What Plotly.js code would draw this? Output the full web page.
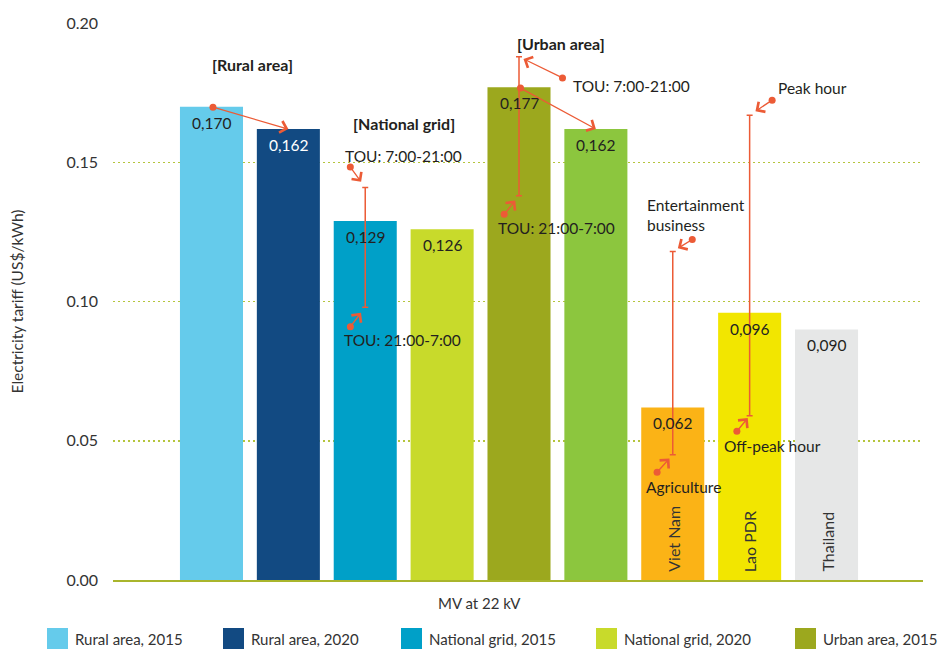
<!DOCTYPE html>
<html>
<head>
<meta charset="utf-8">
<script src="https://cdn.plot.ly/plotly-3.0.1.min.js"></script>
<style>
  html, body { margin: 0; padding: 0; background: #ffffff; }
  #chart { width: 946px; height: 649px; }
</style>
</head>
<body>
<div id="chart"></div>
<script>
// Medium-voltage (22 kV) electricity tariffs, US$/kWh
const categories = [
  'Rural area, 2015', 'Rural area, 2020',
  'National grid, 2015', 'National grid, 2020',
  'Urban area, 2015', 'Urban area, 2020',
  'Viet Nam', 'Lao PDR', 'Thailand'
];
const tariffs = [0.170, 0.162, 0.129, 0.126, 0.177, 0.162, 0.062, 0.096, 0.090];

// Time-of-use / sector ranges shown as vertical whiskers
const rangeHigh = [null, null, 0.141, null, 0.188, null, 0.118, 0.167, null];
const rangeLow  = [null, null, 0.098, null, 0.138, null, 0.045, 0.059, null];
const rangeHighLabels = [null, null, 'TOU: 7:00-21:00', null, 'TOU: 7:00-21:00', null, 'Entertainment<br>business', 'Peak hour', null];
const rangeLowLabels  = [null, null, 'TOU: 21:00-7:00', null, 'TOU: 21:00-7:00', null, 'Agriculture', 'Off-peak hour', null];

const groupLabels = ['[Rural area]', '[National grid]', '[Urban area]'];
const countryBars = [6, 7, 8];
const legendBars = [0, 1, 2, 3, 4];
const yTickVals = [0, 0.05, 0.10, 0.15, 0.20];
const yTickText = ['0.00', '0.05', '0.10', '0.15', '0.20'];

// Styling
const barColors = ['#65CBEB', '#124A82', '#00A0C8', '#C8DA2B', '#9CA81E', '#8CC63E', '#FBB316', '#F2E600', '#E6E7E7'];
const ink = '#231F20';
const arrowRed = '#EC5B36';
const FONT = 'Lato, "Open Sans", sans-serif';

const W = 946, H = 649;
const M = { l: 113, r: 23, t: 23, b: 69 };
const plotW = W - M.l - M.r, plotH = H - M.t - M.b;
const paperX = px => (px - M.l) / plotW;
const paperY = py => (H - M.b - py) / plotH;

const fmt = v => v.toFixed(3).replace('.', ',');

// One trace per bar so each keeps its own colour
const traces = categories.map((name, i) => ({
  type: 'bar',
  name: name,
  x: [i],
  y: [tariffs[i]],
  width: 0.82,
  marker: { color: barColors[i], line: { width: 0 } },
  showlegend: false,
  hoverinfo: 'name+y',
  error_y: rangeHigh[i] == null ? { visible: false } : {
    type: 'data',
    symmetric: false,
    array: [rangeHigh[i] - tariffs[i]],
    arrayminus: [tariffs[i] - rangeLow[i]],
    color: arrowRed,
    thickness: 1.5,
    width: 3
  }
}));

const annotations = [];

// Value labels just inside the top of each bar
tariffs.forEach((v, i) => {
  annotations.push({
    x: i, y: v, xref: 'x', yref: 'y',
    text: fmt(v), showarrow: false,
    yanchor: 'middle', yshift: -16,
    font: { family: FONT, size: 15.5, color: i === 1 ? '#ffffff' : ink }
  });
});

// Country names written up the bars
countryBars.forEach(i => {
  annotations.push({
    x: i, y: 0, xref: 'x', yref: 'y',
    text: categories[i], showarrow: false, textangle: -90,
    yanchor: 'bottom', yshift: 6,
    font: { family: FONT, size: 16, color: '#333333' }
  });
});

// Group headings
const groupPos = [[0.527, 0.1853], [2.504, 0.1641], [4.546, 0.1928]];
groupLabels.forEach((t, k) => {
  annotations.push({
    x: groupPos[k][0], y: groupPos[k][1], xref: 'x', yref: 'y',
    text: '<b>' + t + '</b>', showarrow: false,
    font: { family: FONT, size: 16, color: ink }
  });
});

// Arrow style shared by all callouts
const arrowStyle = {
  text: '', showarrow: true,
  arrowhead: 4, startarrowhead: 6, arrowside: 'end+start',
  arrowsize: 1.8, startarrowsize: 1.35, arrowwidth: 1.3,
  arrowcolor: arrowRed
};

// 2015 -> 2020 change arrows between neighbouring bars
[[0, 1], [4, 5]].forEach(([a, b]) => {
  annotations.push(Object.assign({}, arrowStyle, {
    x: b, y: tariffs[b], xref: 'x', yref: 'y',
    ax: a, ay: tariffs[a], axref: 'x', ayref: 'y',
    standoff: 0
  }));
});

// Callout arrows pointing at the whisker ends (tail offsets in px)
const highArrow = { 2: [-16, -22, 7], 4: [45, 22, 5], 6: [21, -13, 6], 7: [24, -16, 7] };
const lowArrow  = { 2: [-16, 21, 7], 4: [-16, 20, 6], 6: [-17, 19, 5], 7: [-14, 17, 3] };
Object.keys(highArrow).forEach(k => {
  const i = +k, o = highArrow[k];
  annotations.push(Object.assign({}, arrowStyle, {
    x: i, y: rangeHigh[i], xref: 'x', yref: 'y', ax: o[0], ay: o[1], standoff: o[2]
  }));
});
Object.keys(lowArrow).forEach(k => {
  const i = +k, o = lowArrow[k];
  annotations.push(Object.assign({}, arrowStyle, {
    x: i, y: rangeLow[i], xref: 'x', yref: 'y', ax: o[0], ay: o[1], standoff: o[2]
  }));
});

// Whisker labels
const highLabelPos = { 2: [2.504, 0.1522, 'center'], 4: [4.676, 0.1774, 'left'], 6: [5.639, 0.1312, 'left'], 7: [7.343, 0.1767, 'left'] };
const lowLabelPos  = { 2: [2.491, 0.0862, 'center'], 4: [4.494, 0.1264, 'center'], 6: [6.146, 0.0334, 'center'], 7: [7.303, 0.0481, 'center'] };
[[highLabelPos, rangeHighLabels], [lowLabelPos, rangeLowLabels]].forEach(([pos, labels]) => {
  Object.keys(pos).forEach(k => {
    const p = pos[k];
    annotations.push({
      x: p[0], y: p[1], xref: 'x', yref: 'y',
      text: labels[+k], showarrow: false, xanchor: p[2], align: 'left',
      font: { family: FONT, size: 15.5, color: ink }
    });
  });
});

// Horizontal axis caption
annotations.push({
  x: paperX(479), y: paperY(603), xref: 'paper', yref: 'paper',
  text: 'MV at 22 kV', showarrow: false, yanchor: 'middle',
  font: { family: FONT, size: 15, color: '#333333' }
});

// Legend row: square swatches with labels
const legendLeft = [47, 223, 401, 596, 795];
const shapes = [];
legendBars.forEach((i, k) => {
  const x0 = legendLeft[k];
  shapes.push({
    type: 'rect', xref: 'paper', yref: 'paper',
    x0: paperX(x0), x1: paperX(x0 + 21),
    y0: paperY(650), y1: paperY(628),
    fillcolor: barColors[i], line: { width: 0 }
  });
  annotations.push({
    x: paperX(x0 + 26), y: paperY(639), xref: 'paper', yref: 'paper',
    text: categories[i], showarrow: false, xanchor: 'left', yanchor: 'middle',
    font: { family: FONT, size: 15, color: '#333333' }
  });
});

const layout = {
  width: W, height: H,
  margin: M,
  paper_bgcolor: '#ffffff', plot_bgcolor: '#ffffff',
  barmode: 'overlay',
  showlegend: false,
  font: { family: FONT, color: '#333333' },
  xaxis: {
    range: [-1.281, 9.255],
    showticklabels: false, ticks: '', showgrid: false, zeroline: false,
    showline: true, linecolor: '#A9B52C', linewidth: 2,
    fixedrange: true
  },
  yaxis: {
    range: [0, 0.2001],
    tickvals: yTickVals, ticktext: yTickText,
    tickfont: { family: FONT, size: 16, color: '#333333' },
    ticks: '', ticklabelstandoff: 14,
    showgrid: true, gridcolor: '#B5C53C', gridwidth: 1.5, griddash: '1.5px,3.5px',
    zeroline: false, showline: false,
    title: { text: 'Electricity tariff (US$/kWh)', font: { family: FONT, size: 15.5, color: '#333333' }, standoff: 38 },
    fixedrange: true
  },
  annotations: annotations,
  shapes: shapes
};

Plotly.newPlot('chart', traces, layout, { displayModeBar: false, staticPlot: true });
</script>
</body>
</html>
